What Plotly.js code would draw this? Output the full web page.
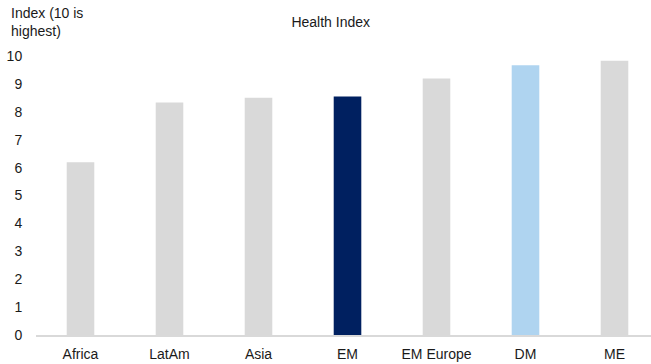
<!DOCTYPE html>
<html>
<head>
<meta charset="utf-8">
<script src="https://cdn.plot.ly/plotly-3.0.1.min.js"></script>
<style>html,body{margin:0;padding:0;background:#fff;}#chart{width:651px;height:364px;}</style>
</head>
<body>
<div id="chart"></div>
<script>
const categories = ["Africa", "LatAm", "Asia", "EM", "EM Europe", "DM", "ME"];
const values = [6.19, 8.33, 8.50, 8.55, 9.19, 9.67, 9.83];
const barColors = ["#d9d9d9", "#d9d9d9", "#d9d9d9", "#002060", "#d9d9d9", "#afd4f0", "#d9d9d9"];
const yTicks = [0, 1, 2, 3, 4, 5, 6, 7, 8, 9, 10];

const font = {family: "Liberation Sans, Arial, sans-serif", size: 14, color: "#1a1a1a"};

Plotly.newPlot("chart", [{
  type: "bar",
  x: categories,
  y: values,
  width: 0.31,
  marker: {color: barColors, line: {width: 0}},
  hoverinfo: "skip"
}], {
  width: 651, height: 364,
  margin: {l: 36, r: 0, t: 56, b: 29, pad: 0},
  paper_bgcolor: "#fff", plot_bgcolor: "#fff",
  font: font,
  showlegend: false,
  title: {text: "Health Index", font: {family: font.family, size: 14, color: "#1a1a1a"}, x: 0.508, xref: "container", xanchor: "center", y: 0.94, yref: "container", yanchor: "middle"},
  xaxis: {
    range: [-0.5, 6.41], fixedrange: true,
    showline: true, linecolor: "#d9d9d9", linewidth: 2,
    showgrid: false, zeroline: false,
    ticks: "outside", ticklen: 5, tickcolor: "rgba(0,0,0,0)",
    tickfont: font
  },
  yaxis: {
    range: [0, 10], fixedrange: true,
    tickvals: yTicks, ticktext: yTicks.map(String),
    showline: false, showgrid: false, zeroline: false,
    ticks: "outside", ticklen: 10, tickcolor: "rgba(0,0,0,0)",
    tickfont: font
  },
  annotations: [{
    text: "Index (10 is<br>highest)",
    xref: "paper", yref: "paper",
    x: -0.044, y: 1.19, xanchor: "left", yanchor: "top",
    align: "left", showarrow: false,
    font: font
  }]
}, {staticPlot: true, displayModeBar: false});
</script>
</body>
</html>
